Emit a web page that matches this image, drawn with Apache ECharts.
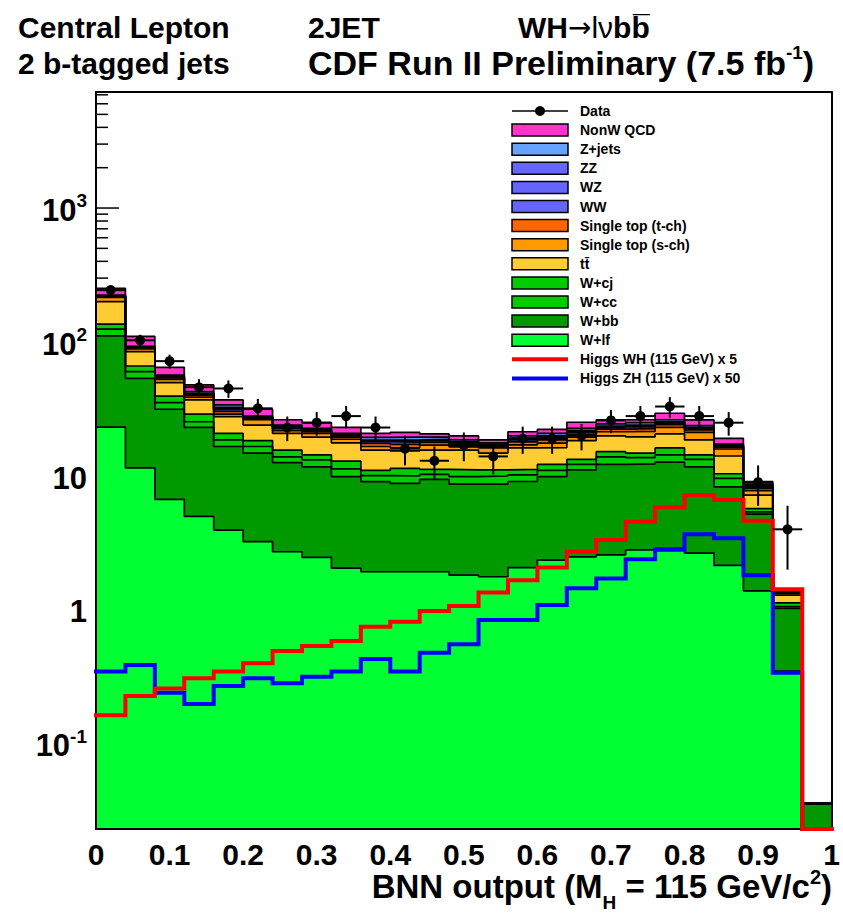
<!DOCTYPE html>
<html>
<head>
<meta charset="utf-8">
<title>WH → lνbb̄ BNN output, 2 b-tagged jets</title>
<script src="https://cdn.jsdelivr.net/npm/echarts@6/dist/echarts.min.js"></script>
<style>
  html, body { margin: 0; padding: 0; background: #ffffff; }
  #chart { width: 843px; height: 915px; }
</style>
</head>
<body>
<div id="chart"></div>
<script>
// ---- Histogram binning: 25 bins of BNN output, width 0.04 ----
const binLo = [0.00, 0.04, 0.08, 0.12, 0.16, 0.20, 0.24, 0.28, 0.32, 0.36, 0.40, 0.44, 0.48,
               0.52, 0.56, 0.60, 0.64, 0.68, 0.72, 0.76, 0.80, 0.84, 0.88, 0.92, 0.96];
const binWidth = 0.04;

// ---- Expected events per bin for each background process ----
const wlf   = [23.2, 11.5, 6.7, 5.0, 3.95, 3.24, 2.72, 2.47, 2.05, 1.93, 1.93, 1.93, 1.82, 1.77, 2.07, 2.36, 2.49, 2.58, 2.81, 2.88, 2.66, 2.15, 1.39, 0.35, 0.005];
const wbb   = [87.8, 42.1, 24.8, 18.1, 12.65, 11.56, 9.88, 9.23, 7.85, 7.14, 6.87, 7.52, 6.88, 6.93, 7.03, 7.54, 8.61, 9.62, 9.49, 9.82, 9.04, 6.15, 3.81, 0.68, 0.031];
const wcc   = [14.0, 6.5, 3.8, 2.3, 2.0, 1.8, 1.3, 1.5, 1.4, 0.98, 1.2, 0.85, 1.2, 1.3, 1.1, 1.1, 1.1, 1.7, 1.4, 1.7, 1.6, 1.3, 0.2, 0.03, 0];
const wcj   = [11.0, 6.1, 4.2, 3.6, 2.2, 1.8, 1.7, 1.2, 1.6, 0.95, 1.4, 0.9, 1.2, 1.1, 1.0, 1.2, 1.1, 1.3, 1.1, 1.8, 1.1, 0.8, 0.3, 0.07, 0];
const ttbar = [64.0, 18.5, 10.2, 8.0, 6.9, 5.6, 5.2, 5.1, 4.8, 4.6, 4.0, 4.4, 4.5, 3.7, 5.0, 4.1, 5.1, 4.7, 4.8, 4.4, 4.2, 3.7, 1.5, 0.16, 0];
const stopS = [15.0, 4.0, 3.0, 1.7, 1.3, 2.3, 1.0, 1.3, 1.1, 1.0, 0.8, 1.4, 0.9, 1.4, 0.9, 1.3, 1.1, 1.5, 1.9, 2.5, 2.6, 1.8, 0.57, 0.04, 0];
const stopT = [3.0, 1.5, 1.3, 1.3, 1.4, 0.7, 0.8, 0.6, 0.7, 0.9, 1.0, 0.8, 0.7, 0.5, 0.9, 1.0, 1.0, 1.0, 1.1, 1.1, 0.9, 0.5, 0.3, 0.01, 0];
const ww    = [1.8, 0.9, 0.8, 0.8, 1.0, 0.35, 0.45, 0.4, 0.4, 0.55, 0.7, 0.5, 0.45, 0.3, 0.6, 0.65, 0.65, 0.6, 0.7, 0.65, 0.5, 0.3, 0.2, 0.01, 0];
const wz    = [0.7, 0.35, 0.3, 0.3, 0.5, 0.15, 0.2, 0.2, 0.2, 0.25, 0.35, 0.25, 0.2, 0.15, 0.3, 0.3, 0.3, 0.3, 0.35, 0.3, 0.25, 0.15, 0.08, 0.005, 0];
const zz    = [0.5, 0.25, 0.25, 0.25, 0.6, 0.1, 0.15, 0.15, 0.15, 0.2, 0.35, 0.2, 0.15, 0.1, 0.3, 0.35, 0.35, 0.3, 0.35, 0.35, 0.25, 0.15, 0.1, 0.005, 0];
const zjets = [3.0, 1.3, 1.35, 1.25, 1.4, 0.4, 0.6, 0.55, 0.55, 0.9, 0.9, 0.75, 0.6, 0.45, 0.7, 0.9, 0.9, 0.9, 1.0, 0.8, 0.7, 0.3, 0.25, 0.005, 0];
const qcd   = [28.0, 17.0, 8.0, 5.2, 3.1, 3.5, 2.3, 2.3, 2.3, 1.4, 1.7, 1.1, 1.3, 0.9, 1.5, 1.5, 2.5, 1.8, 1.3, 3.1, 2.4, 1.8, 0.37, 0.01, 0];

// ---- Observed events ----
const dataCounts = [244, 103, 72, 46, 45, 32, 23, 25, 28, 23, 16, 13, 17, 14, 19, 19, 20, 26, 28, 33, 28, 25, 9, 4, 0];

// ---- Higgs signal templates (scaled) ----
const higgsWH = [0.164, 0.228, 0.260, 0.309, 0.347, 0.400, 0.494, 0.539, 0.587, 0.750, 0.818, 0.983, 1.07, 1.35, 1.67, 2.08, 2.72, 3.33, 4.56, 5.84, 7.21, 6.63, 4.64, 1.43, 0];
const higgsZH = [0.347, 0.389, 0.241, 0.199, 0.271, 0.309, 0.284, 0.318, 0.347, 0.431, 0.347, 0.480, 0.554, 0.842, 0.842, 1.09, 1.45, 1.72, 2.39, 2.81, 3.67, 3.43, 1.82, 0.34, 0];

// ---- Axis range and labels ----
const yMin = 0.0232;
const yMax = 7345;
const yDecades = [0.1, 1, 10, 100, 1000];
const yDecadeLabels = ['{b|10}{s|-1}', '{b|1}', '{b|10}', '{b|10}{s|2}', '{b|10}{s|3}'];

const FONT = '"Liberation Sans", Arial, Helvetica, sans-serif';

// Background processes, bottom of the stack first
const processes = [
  { name: 'W+lf',              values: wlf,   color: '#00ff33' },
  { name: 'W+bb',              values: wbb,   color: '#009900' },
  { name: 'W+cc',              values: wcc,   color: '#00cc00' },
  { name: 'W+cj',              values: wcj,   color: '#00cc00' },
  { name: 'tt\u0304',          values: ttbar, color: '#ffcc33' },
  { name: 'Single top (s-ch)', values: stopS, color: '#ff9900' },
  { name: 'Single top (t-ch)', values: stopT, color: '#ff6600' },
  { name: 'WW',                values: ww,    color: '#6666ff' },
  { name: 'WZ',                values: wz,    color: '#6666ff' },
  { name: 'ZZ',                values: zz,    color: '#6666ff' },
  { name: 'Z+jets',            values: zjets, color: '#66a3ff' },
  { name: 'NonW QCD',          values: qcd,   color: '#ff33cc' }
];

// Running sums: each layer is drawn as the histogram of everything below it plus itself
const running = binLo.map(() => 0);
const cumulative = processes.map(p => p.values.map((v, i) => (running[i] += v)));

const clampLow = v => Math.max(v, yMin);
// Step-line points: one point per bin lower edge plus the upper edge of the last bin
function stepPoints(vals) {
  const pts = vals.map((v, i) => [binLo[i], v]);
  pts.push([binLo[binLo.length - 1] + binWidth, vals[vals.length - 1]]);
  return pts;
}

// Stacked histograms: largest sum first so smaller sums paint over it
const stackSeries = processes.map((p, k) => ({
  type: 'line',
  name: p.name,
  step: 'end',
  symbol: 'none',
  clip: true,
  z: 2,
  silent: true,
  data: stepPoints(cumulative[k].map(v => Math.max(v, 1e-4))),
  lineStyle: { color: '#000000', width: 1.7 },
  areaStyle: { color: p.color, opacity: 1, origin: 'start' },
  animation: false
})).reverse();

const higgsSeries = [
  { data: higgsZH, color: '#0000ff', z: 6, name: 'Higgs ZH (115 GeV) x 50' },
  { data: higgsWH, color: '#ff0000', z: 7, name: 'Higgs WH (115 GeV) x 5' }
].map(h => ({
  type: 'line',
  name: h.name,
  step: 'end',
  symbol: 'none',
  clip: false,
  z: h.z,
  silent: true,
  data: stepPoints(h.data.map(clampLow)),
  lineStyle: { color: h.color, width: 4, cap: 'square', join: 'miter' },
  animation: false
}));

// Observed data with Poisson errors and bin-width horizontal bars
const dataItems = dataCounts.map((n, i) => [
  binLo[i] + binWidth / 2, n, binLo[i], binLo[i] + binWidth, n - Math.sqrt(n), n + Math.sqrt(n)
]);
const dataSeries = {
  type: 'custom',
  name: 'Data',
  z: 8,
  silent: true,
  clip: false,
  encode: { x: 0, y: 1 },
  data: dataItems,
  renderItem: (params, api) => {
    const n = api.value(1);
    if (!(n > 0)) return null;
    const c = api.coord([api.value(0), n]);
    const l = api.coord([api.value(2), n]);
    const r = api.coord([api.value(3), n]);
    const lo = api.coord([api.value(0), api.value(4)]);
    const hi = api.coord([api.value(0), api.value(5)]);
    return {
      type: 'group',
      children: [
        { type: 'line', shape: { x1: l[0], y1: l[1], x2: r[0], y2: r[1] }, style: { stroke: '#000', lineWidth: 2 } },
        { type: 'line', shape: { x1: lo[0], y1: lo[1], x2: hi[0], y2: hi[1] }, style: { stroke: '#000', lineWidth: 2 } },
        { type: 'circle', shape: { cx: c[0], cy: c[1], r: 5 }, style: { fill: '#000' } }
      ]
    };
  },
  animation: false
};

// Logarithmic y ticks: decades long, 2..9 multiples short
const yTickItems = [];
for (let e = -2; e <= 3; e++) {
  for (let m = 1; m <= 9; m++) {
    const v = m * Math.pow(10, e);
    if (v >= yMin && v <= yMax) yTickItems.push([0, v, m === 1 ? 1 : 0]);
  }
}
const yTickSeries = {
  type: 'custom',
  z: 1,
  silent: true,
  clip: false,
  encode: { x: 0, y: 1 },
  data: yTickItems,
  renderItem: (params, api) => {
    const p = api.coord([api.value(0), api.value(1)]);
    const len = api.value(2) ? 23 : 12;
    return { type: 'line', shape: { x1: p[0], y1: p[1], x2: p[0] + len, y2: p[1] }, style: { stroke: '#000', lineWidth: 1.5 } };
  },
  animation: false
};
const yLabelSeries = {
  type: 'custom',
  z: 9,
  silent: true,
  clip: false,
  encode: { x: 0, y: 1 },
  data: yDecades.map(v => [0, v]),
  renderItem: (params, api) => {
    const p = api.coord([api.value(0), api.value(1)]);
    return {
      type: 'text',
      x: p[0] - 9,
      y: p[1] + 2,
      style: {
        text: yDecadeLabels[params.dataIndex],
        textAlign: 'right',
        textVerticalAlign: 'middle',
        fill: '#000',
        rich: {
          b: { fontFamily: FONT, fontWeight: 'bold', fontSize: 31, lineHeight: 38, fill: '#000' },
          s: { fontFamily: FONT, fontWeight: 'bold', fontSize: 19, verticalAlign: 'top', fill: '#000' }
        }
      }
    };
  },
  animation: false
};

// ---- Legend ----
const legendEntries = [
  { label: 'Data', kind: 'data' },
  { label: 'NonW QCD', color: '#ff33cc' },
  { label: 'Z+jets', color: '#66a3ff' },
  { label: 'ZZ', color: '#6666ff' },
  { label: 'WZ', color: '#6666ff' },
  { label: 'WW', color: '#6666ff' },
  { label: 'Single top (t-ch)', color: '#ff6600' },
  { label: 'Single top (s-ch)', color: '#ff9900' },
  { label: 'tt\u0304', color: '#ffcc33' },
  { label: 'W+cj', color: '#00cc00' },
  { label: 'W+cc', color: '#00cc00' },
  { label: 'W+bb', color: '#009900' },
  { label: 'W+lf', color: '#00ff33' },
  { label: 'Higgs WH (115 GeV) x 5', kind: 'line', color: '#ff0000' },
  { label: 'Higgs ZH (115 GeV) x 50', kind: 'line', color: '#0000ff' }
];
const legendGraphics = [];
legendEntries.forEach((e, i) => {
  const cy = 111 + i * 19.1;
  if (e.kind === 'data') {
    legendGraphics.push({ type: 'line', shape: { x1: 512, y1: cy, x2: 568, y2: cy }, style: { stroke: '#000', lineWidth: 1.5 }, z: 20 });
    legendGraphics.push({ type: 'circle', shape: { cx: 540, cy: cy, r: 5 }, style: { fill: '#000' }, z: 20 });
  } else if (e.kind === 'line') {
    legendGraphics.push({ type: 'line', shape: { x1: 512, y1: cy, x2: 568, y2: cy }, style: { stroke: e.color, lineWidth: 4 }, z: 20 });
  } else {
    legendGraphics.push({ type: 'rect', shape: { x: 512, y: cy - 6, width: 56, height: 12 }, style: { fill: e.color, stroke: '#000', lineWidth: 1.5 }, z: 20 });
  }
  legendGraphics.push({
    type: 'text', x: 580, y: cy, z: 20,
    style: { text: e.label, font: 'bold 14px ' + FONT, fill: '#000', textAlign: 'left', textVerticalAlign: 'middle' }
  });
});

// ---- Header text ----
const headerGraphics = [
  { type: 'text', x: 18, y: 27, style: { text: 'Central Lepton', font: 'bold 30px ' + FONT, fill: '#000', textVerticalAlign: 'middle' } },
  { type: 'text', x: 308, y: 27, style: { text: '2JET', font: 'bold 30px ' + FONT, fill: '#000', textVerticalAlign: 'middle' } },
  { type: 'text', x: 518, y: 27, style: {
      text: '{b|WH}{a|\u2192}{n|l\u03bd}{b|bb\u0305}', textVerticalAlign: 'middle',
      rich: {
        b: { fontFamily: FONT, fontWeight: 'bold', fontSize: 30, fill: '#000' },
        a: { fontFamily: '"DejaVu Sans", sans-serif', fontWeight: 'normal', fontSize: 28, fill: '#000' },
        n: { fontFamily: FONT, fontWeight: 'normal', fontSize: 30, fill: '#000' }
      } } },
  { type: 'text', x: 18, y: 63, style: { text: '2 b-tagged jets', font: 'bold 30px ' + FONT, fill: '#000', textVerticalAlign: 'middle' } },
  { type: 'text', x: 308, y: 63, style: {
      text: '{b|CDF Run II Preliminary (7.5 fb}{s|-1}{b|)}', textVerticalAlign: 'middle',
      rich: {
        b: { fontFamily: FONT, fontWeight: 'bold', fontSize: 34, lineHeight: 40, fill: '#000' },
        s: { fontFamily: FONT, fontWeight: 'bold', fontSize: 19, verticalAlign: 'top', fill: '#000' }
      } } },
  { type: 'text', x: 832, y: 886, style: {
      text: '{t|BNN output (M}{h|H}{t| = 115 GeV/c}{p|2}{t|)}', textAlign: 'right', textVerticalAlign: 'middle',
      rich: {
        t: { fontFamily: FONT, fontWeight: 'bold', fontSize: 33, lineHeight: 52, fill: '#000' },
        h: { fontFamily: FONT, fontWeight: 'bold', fontSize: 19, height: 19, verticalAlign: 'bottom', fill: '#000' },
        p: { fontFamily: FONT, fontWeight: 'bold', fontSize: 20, height: 34, verticalAlign: 'top', fill: '#000' }
      } } }
];

const chart = echarts.init(document.getElementById('chart'), null, { renderer: 'svg' });
chart.setOption({
  animation: false,
  backgroundColor: '#ffffff',
  grid: { left: 96, right: 8, top: 92, bottom: 86, containLabel: false },
  xAxis: [
    {
      type: 'value', min: 0, max: 1, interval: 0.1, position: 'bottom', z: 5,
      axisLine: { show: true, onZero: false, lineStyle: { color: '#000', width: 2 } },
      axisTick: { show: false },
      splitLine: { show: false },
      axisLabel: { show: true, color: '#000', fontFamily: FONT, fontWeight: 'bold', fontSize: 30, margin: 10 }
    },
    {
      type: 'value', min: 0, max: 1, position: 'top', z: 5,
      axisLine: { show: true, onZero: false, lineStyle: { color: '#000', width: 2 } },
      axisTick: { show: false }, axisLabel: { show: false }, splitLine: { show: false }
    }
  ],
  yAxis: [
    {
      type: 'log', logBase: 10, min: yMin, max: yMax, position: 'left', z: 5,
      axisLine: { show: true, onZero: false, lineStyle: { color: '#000', width: 2 } },
      axisTick: { show: false }, axisLabel: { show: false }, splitLine: { show: false }
    },
    {
      type: 'log', logBase: 10, min: yMin, max: yMax, position: 'right', z: 5,
      axisLine: { show: true, onZero: false, lineStyle: { color: '#000', width: 2 } },
      axisTick: { show: false }, axisLabel: { show: false }, splitLine: { show: false }
    }
  ],
  graphic: { elements: headerGraphics.concat(legendGraphics) },
  series: [yTickSeries].concat(stackSeries, higgsSeries, [dataSeries, yLabelSeries])
});
</script>
</body>
</html>
